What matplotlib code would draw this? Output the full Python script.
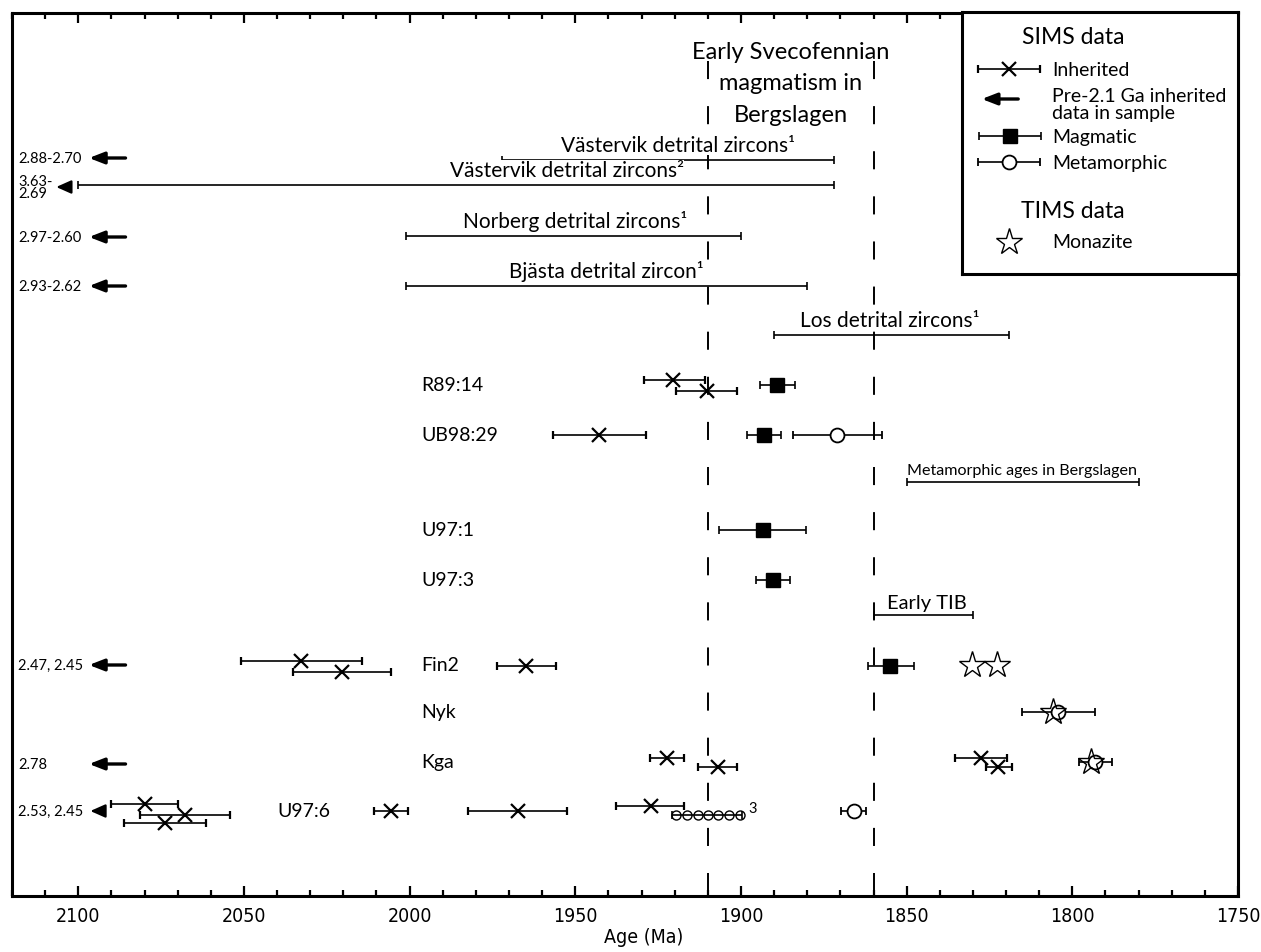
import matplotlib
matplotlib.use('Agg')
import matplotlib.pyplot as plt

plt.rcParams['font.family'] = ['Lato', 'DejaVu Sans']

# --- data (ages in Ma, rows are vertical slots on the chart) ---
# detrital zircon ranges
detrital_names = ['Västervik detrital zircons¹', 'Västervik detrital zircons²',
                  'Norberg detrital zircons¹', 'Bjästa detrital zircon¹', 'Los detrital zircons¹']
detrital_old = [1972, 2100, 2001, 2001, 1890]
detrital_young = [1872, 1872, 1900, 1880, 1819]
detrital_row = [161, 186, 237, 287, 336]
detrital_label_x = [1919, 1952.5, 1950, 1940.5, 1855]

# other age ranges
range_names = ['Metamorphic ages in Bergslagen', 'Early TIB']
range_old = [1850, 1860]
range_young = [1780, 1830]
range_row = [483, 616]

# samples
sample_names = ['R89:14', 'UB98:29', 'U97:1', 'U97:3', 'Fin2', 'Nyk', 'Kga', 'U97:6']
sample_row = [386, 436, 531, 581, 666, 713, 763, 812]
sample_label_x = [1996.5, 1996.5, 1996.5, 1996.5, 1996.5, 1996.5, 1996.5, 2040]

# SIMS inherited grains
inh_age = [1920.4, 1910.3, 1942.8, 2032.7, 2020.4, 1964.9, 1922.2, 1907.0, 1827.5,
           1822.3, 2079.8, 2067.7, 2073.7, 2005.6, 1967.2, 1927.2]
inh_old = [1929.3, 1919.5, 1956.6, 2051.0, 2035.2, 1973.7, 1927.6, 1913.0, 1835.3,
           1826.0, 2090.0, 2081.3, 2086.1, 2010.7, 1982.3, 1937.6]
inh_young = [1910.9, 1901.2, 1928.7, 2014.5, 2005.5, 1955.8, 1917.3, 1901.2, 1819.8,
             1818.3, 2069.8, 2054.1, 2061.4, 2000.4, 1952.4, 1917.3]
inh_row = [381, 392, 436, 662, 673, 667, 759, 768, 759, 768, 805, 816, 824, 812, 812, 807]

# SIMS magmatic ages
mag_age = [1889.1, 1893.0, 1893.5, 1890.4, 1854.9]
mag_old = [1894.2, 1898.1, 1906.5, 1895.6, 1861.8]
mag_young = [1883.6, 1887.9, 1880.3, 1885.1, 1847.7]
mag_row = [386, 436, 531, 581, 667]

# SIMS metamorphic ages
met_age = [1871.0, 1804.4, 1793.1, 1866.0]
met_old = [1884.3, 1815.1, 1798.1, 1869.7]
met_young = [1857.4, 1793.3, 1787.9, 1862.2]
met_row = [436, 713, 763, 812]

# U97:6 cluster of small metamorphic rims (note 3)
rim_age = [1919.5, 1916.3, 1913.1, 1910.0, 1906.8, 1903.6, 1900.4]
rim_old = 1920.8
rim_young = 1899.6
rim_row = 816

# TIMS monazite
mon_age = [1830.2, 1822.6, 1805.8, 1794.3]
mon_row = [666, 666, 713, 763]

# pre-2.1 Ga inherited data
pre_labels = ['2.88-2.70', '2.97-2.60', '2.93-2.62', '2.47, 2.45', '2.78']
pre_row = [159, 238, 287, 666, 765]
pre_head_labels = ['3.63-\n2.69', '2.53, 2.45']
pre_head_row = [188, 812]
pre_head_tip = [2107.5, 2097.2]

magmatism_window = [1910, 1860]

# --- figure ---
W, H = 1261, 953
fig = plt.figure(figsize=(W / 100, H / 100), dpi=100)
ax = fig.add_axes([12 / W, 1 - 897 / H, 1226 / W, 883 / H])
ax.set_xlim(2120, 1750)
ax.set_ylim(897, 14)

for sp in ax.spines.values():
    sp.set_linewidth(2.2)
ax.set_xticks(range(1750, 2101, 50))
ax.set_xticks(range(1750, 2121, 10), minor=True)
ax.tick_params(axis='x', which='both', direction='in', top=True, width=1.6)
ax.tick_params(axis='x', which='major', length=7, labelsize=14, pad=7)
ax.tick_params(axis='x', which='minor', length=4)
ax.set_yticks([])
for lab in ax.get_xticklabels():
    lab.set_family('DejaVu Sans')
    lab.set_stretch('condensed')
ax.set_xlabel('Age (Ma)', fontsize=14, family='DejaVu Sans', fontstretch='condensed')
ax.xaxis.set_label_coords(0.515, -0.035)
ax.xaxis.label.set_va('top')

# dashed lines for early Svecofennian magmatism
for a in magmatism_window:
    ax.plot([a, a], [62, 897], color='black', lw=1.4, linestyle=(0, (9.3, 13.9)))
ax.text(sum(magmatism_window) / 2, 84, 'Early Svecofennian\nmagmatism in\nBergslagen',
        ha='center', va='center', fontsize=17, linespacing=1.6)

ekw = dict(color='black', elinewidth=1.2, capsize=3, capthick=1.2, linestyle='none')
white = dict(facecolor='white', edgecolor='none', pad=0.3)

# ranges
for name, o, yng, r, lx in zip(detrital_names, detrital_old, detrital_young, detrital_row, detrital_label_x):
    ax.errorbar([(o + yng) / 2], [r], xerr=[[(o - yng) / 2]], fmt='none', **ekw)
    ax.text(lx, r - 5, name, ha='center', va='bottom', fontsize=15, bbox=white)
for name, o, yng, r in zip(range_names, range_old, range_young, range_row):
    ax.errorbar([(o + yng) / 2], [r], xerr=[[(o - yng) / 2]], fmt='none', **ekw)
ax.text(range_old[0], range_row[0] - 5, range_names[0], ha='left', va='bottom', fontsize=11.6)
ax.text(1856, range_row[1] - 4, range_names[1], ha='left', va='bottom', fontsize=14.5)

# sample names
for name, r, lx in zip(sample_names, sample_row, sample_label_x):
    ax.text(lx, r, name, ha='left', va='center', fontsize=14)

# inherited
ax.errorbar(inh_age, inh_row,
            xerr=[[a - y for a, y in zip(inh_age, inh_young)], [o - a for a, o in zip(inh_age, inh_old)]],
            fmt='x', ms=10, mew=1.6, mfc='black', mec='black', **ekw)
# magmatic
ax.errorbar(mag_age, mag_row,
            xerr=[[a - y for a, y in zip(mag_age, mag_young)], [o - a for a, o in zip(mag_age, mag_old)]],
            fmt='s', ms=9.5, mfc='black', mec='black', **ekw)
# metamorphic
ax.errorbar([(rim_old + rim_young) / 2], [rim_row], xerr=[[(rim_old - rim_young) / 2]], fmt='none', **ekw)
ax.plot(rim_age, [rim_row] * len(rim_age), 'o', ms=6.5, mfc='none', mec='black', mew=1.0)
ax.text(1897.8, rim_row - 7, '3', fontsize=10.5, ha='left', va='center')
ax.errorbar(met_age, met_row,
            xerr=[[a - y for a, y in zip(met_age, met_young)], [o - a for a, o in zip(met_age, met_old)]],
            fmt='o', ms=10, mfc='white', mec='black', mew=1.3, zorder=3, **ekw)
# monazite
ax.plot(mon_age, mon_row, '*', ms=20, mfc='none', mec='black', mew=1.0, zorder=4)

# pre-2.1 Ga arrows
arrow_kw = dict(arrowstyle='-|>,head_length=0.9,head_width=0.35', color='black', lw=2.4)
for lab, r in zip(pre_labels, pre_row):
    ax.annotate('', xy=(2097.6, r), xytext=(2084.9, r), arrowprops=arrow_kw)
    ax.text(2118.2, r, lab, ha='left', va='center', fontsize=10.5)
for lab, r, tip in zip(pre_head_labels, pre_head_row, pre_head_tip):
    ax.annotate('', xy=(tip, r), xytext=(tip - 4.2, r),
                arrowprops=dict(arrowstyle='-|>,head_length=0.9,head_width=0.4', color='black', lw=1.6))
    ax.text(2118.2, r, lab, ha='left', va='center', fontsize=10.5, linespacing=0.85)

# --- legend box ---
lg = fig.add_axes([962 / W, 1 - 275 / H, 276 / W, 262 / H])
lg.set_xlim(962, 1238)
lg.set_ylim(275, 13)
lg.set_xticks([])
lg.set_yticks([])
for sp in lg.spines.values():
    sp.set_linewidth(2.2)
lg.text(1073, 38, 'SIMS data', ha='center', va='center', fontsize=16.5)
lg.errorbar([1009], [70], xerr=[[31]], fmt='x', ms=10, mew=1.6, mec='black', **ekw)
lg.text(1052, 70, 'Inherited', ha='left', va='center', fontsize=14)
lg.annotate('', xy=(979, 100), xytext=(1021, 100), arrowprops=arrow_kw)
lg.text(1052, 105, 'Pre-2.1 Ga inherited\ndata in sample', ha='left', va='center',
        fontsize=14, linespacing=0.95)
lg.errorbar([1010], [137], xerr=[[31]], fmt='s', ms=9.5, mfc='black', mec='black', **ekw)
lg.text(1052, 137, 'Magmatic', ha='left', va='center', fontsize=14)
lg.errorbar([1009], [163], xerr=[[31]], fmt='o', ms=10, mfc='white', mec='black', mew=1.3, **ekw)
lg.text(1052, 163, 'Metamorphic', ha='left', va='center', fontsize=14)
lg.text(1073, 211, 'TIMS data', ha='center', va='center', fontsize=16.5)
lg.plot([1009], [243], '*', ms=20, mfc='none', mec='black', mew=1.0)
lg.text(1052, 243, 'Monazite', ha='left', va='center', fontsize=14)

fig.savefig('out.png', dpi=100)
